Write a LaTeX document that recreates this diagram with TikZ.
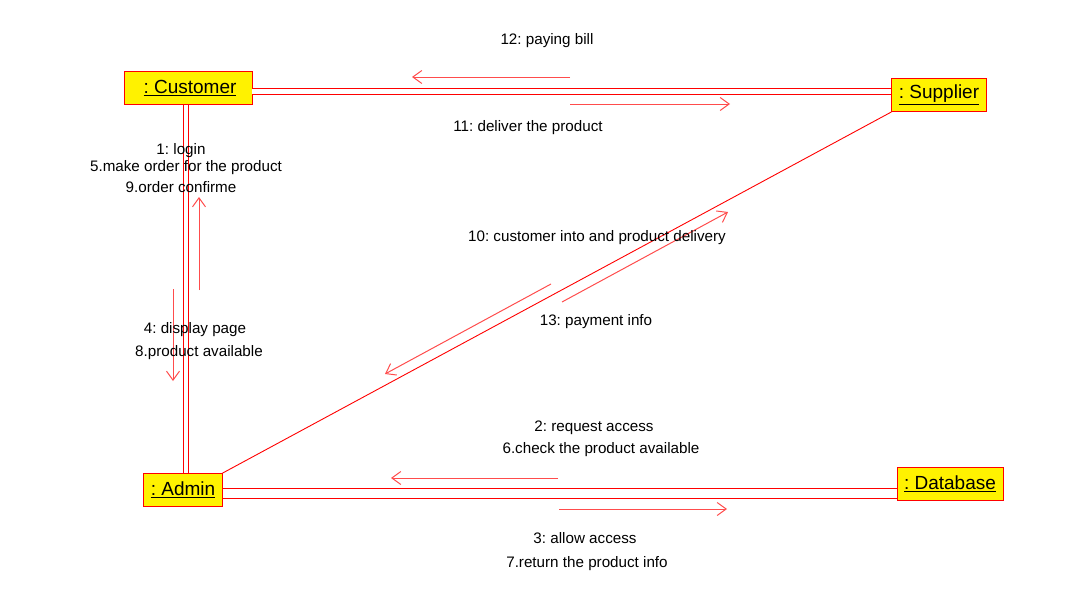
\documentclass[tikz,border=0pt]{standalone}
\usepackage{fontspec}
\setmainfont{Liberation Sans}
\usetikzlibrary{arrows.meta}
\definecolor{lnkred}{rgb}{1,0,0}
\definecolor{msgred}{rgb}{1,0.3,0.3}
\frenchspacing
\tikzset{
  obj/.style={draw=lnkred, fill=yellow, line width=0.9pt, font=\fontsize{19}{22}\selectfont,
    inner xsep=7pt, minimum height=33pt},
  lnk/.style={draw=lnkred, line width=1pt, double=white},
  msg/.style={draw=msgred, line width=1pt, -{Straight Barb[length=9pt,width=13pt]}},
  lbl/.style={font=\fontsize{15.2}{18}\selectfont, inner sep=0pt, yshift=-2pt}
}
\begin{document}
\begin{tikzpicture}[x=1pt,y=-1pt]
  \useasboundingbox (0,0) rectangle (1080,616);
  % objects
  \node[obj, minimum width=128pt] (cust) at (188,88) {\hspace{4pt}\underline{: Customer}};
  \node[obj] (supp) at (939,95) {\underline{: Supplier}};
  \node[obj] (adm) at (183,490) {\underline{: Admin}};
  \node[obj] (db) at (950,484) {\underline{: Database}};
  % links
  \draw[lnk, double distance=5.6pt] ([yshift=-3.5pt]cust.east) -- ([yshift=-3.5pt]cust.east -| supp.west);
  \draw[draw=lnkred, line width=1pt] ([xshift=-5pt]cust.south) -- ([xshift=-5pt]cust.south |- adm.north);
  \draw[draw=lnkred, line width=1pt] (cust.south) -- (cust.south |- adm.north);
  \draw[lnk, double distance=8.6pt] ([yshift=-3.5pt]adm.east) -- ([yshift=-3.5pt]adm.east -| db.west);
  \draw[draw=lnkred, line width=0.9pt] (adm.north east) -- (supp.south west);
  % customer - supplier
  \coordinate (m12a) at (570,77); \coordinate (m12b) at (412,77);
  \coordinate (m11a) at (570,104); \coordinate (m11b) at (730,104);
  \draw[msg] (m12a) -- (m12b);
  \draw[msg] (m11a) -- (m11b);
  \node[lbl] (l12) at (547,39) {12: paying bill};
  \node[lbl] (l11) at (528,126) {11: deliver the product};
  % customer - admin
  \coordinate (m1a) at (199,290); \coordinate (m1b) at (199,197);
  \coordinate (m4a) at (173,289); \coordinate (m4b) at (173,381);
  \draw[msg] (m1a) -- (m1b);
  \draw[msg] (m4a) -- (m4b);
  \node[lbl] (l1) at (181,149) {1: login};
  \node[lbl] (l5) at (186,166) {5.make order for the product};
  \node[lbl] (l9) at (181,185) {9.order confirme};
  \node[lbl] (l4) at (195,328) {4: display page};
  \node[lbl] (l8) at (199,351) {8.product available};
  % admin - supplier
  \coordinate (m10a) at (562,302); \coordinate (m10b) at (728,212);
  \coordinate (m13a) at (551,284); \coordinate (m13b) at (385,374);
  \draw[msg] (m10a) -- (m10b);
  \draw[msg] (m13a) -- (m13b);
  \node[lbl] (l10) at (597,236) {10: customer into and product delivery};
  \node[lbl] (l13) at (596,320) {13: payment info};
  % admin - database
  \coordinate (m2a) at (558,478); \coordinate (m2b) at (391,478);
  \coordinate (m3a) at (559,509); \coordinate (m3b) at (727,509);
  \draw[msg] (m2a) -- (m2b);
  \draw[msg] (m3a) -- (m3b);
  \node[lbl] (l2) at (594,426) {2: request access};
  \node[lbl] (l6) at (601,448) {6.check the product available};
  \node[lbl] (l3) at (585,536) {3: allow access};
  \node[lbl] (l7) at (587,562) {7.return the product info};
\end{tikzpicture}
\end{document}
